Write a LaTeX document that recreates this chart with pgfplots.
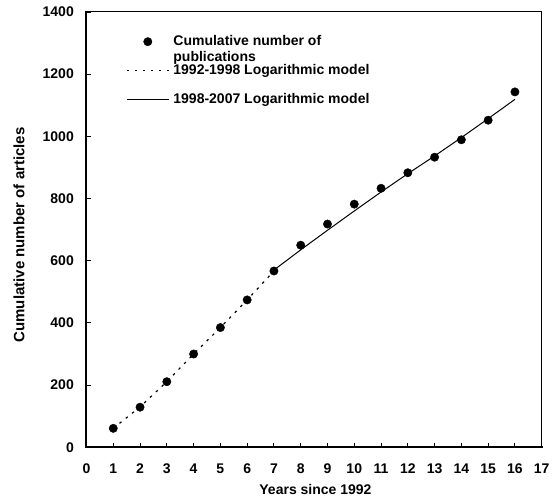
\documentclass[border=0pt]{standalone}
\usepackage{fontspec}
\setmainfont{Liberation Sans}
\usepackage{pgfplots}
\pgfplotsset{compat=1.18}
\pgfplotsset{
  linelegend/.style={legend image code/.code={\draw[##1] (0pt,0pt) -- (42pt,0pt);}},
  dotlegend/.style={legend image code/.code={\draw[mark repeat=2,mark phase=2,##1] plot coordinates {(0pt,0pt)(21pt,0pt)(42pt,0pt)};}},
}
\begin{document}
\begin{tikzpicture}
\begin{axis}[
 at={(0,0)}, anchor=south west,
 scale only axis, width=455.2pt, height=435.3pt,
 xmin=0, xmax=17, ymin=0, ymax=1400,
 xtick={0,1,...,17}, ytick={0,200,...,1400},
 tick pos=left, tick align=inside, major tick length=4.7pt,
 every tick/.style={black, line width=0.9pt},
 axis line style={line width=1pt},
 font=\fontsize{14}{16}\selectfont\bfseries,
 /pgf/number format/assume math mode=true,
 /pgf/number format/1000 sep={},
 xticklabel style={anchor=base, yshift=-26pt, inner sep=0pt},
 yticklabel style={anchor=east, xshift=-12.5pt, inner sep=0pt},
 xlabel={Years since 1992},
 ylabel={Cumulative number of articles},
 xlabel style={at={(axis description cs:0.503,0)}, anchor=base, yshift=-47.7pt, inner sep=0pt},
 ylabel style={at={(axis description cs:-0.1483,0.488)}, anchor=center, inner sep=0pt, font=\fontsize{15}{17}\selectfont\bfseries},
 legend style={at={(axis description cs:0.0868,0.9472)}, anchor=north west,
   draw=none, fill=none, inner sep=0pt, row sep=16pt, column sep=4pt,
   nodes={inner sep=0pt, text height=10pt, text depth=3pt}},
 legend cell align=left,
 extra description/.code={\draw[line width=2pt,line cap=rect] (axis description cs:0,1) -- (axis description cs:0,0) -- (axis description cs:1,0);},
]
\addplot[only marks, mark=*, mark size=4.2pt, black, dotlegend]
  coordinates {(1,61) (2,129) (3,211) (4,300) (5,385) (6,474) (7,567) (8,650) (9,718) (10,782) (11,833) (12,883) (13,933) (14,989) (15,1052) (16,1143)};
\addlegendentry{\begin{tabular}[t]{@{}l@{}}Cumulative number of\\publications\end{tabular}}
\addplot[black, line width=1.2pt, dash pattern=on 2.5pt off 5.5pt, linelegend]
  coordinates {(1,61) (2,130) (3,211) (4,300) (5,385) (6,474) (7,567)};
\addlegendentry{1992-1998 Logarithmic model}
\addplot[black, line width=1pt, linelegend]
  coordinates {(7,570) (8,635) (9,698) (10,760) (11,821) (12,880) (13,937) (14,996) (15,1057) (16,1119)};
\addlegendentry{1998-2007 Logarithmic model}
\end{axis}
\pgfresetboundingbox
\useasboundingbox (-86.5pt,-52.7pt) rectangle (465.5pt,447.3pt);
\end{tikzpicture}
\end{document}
